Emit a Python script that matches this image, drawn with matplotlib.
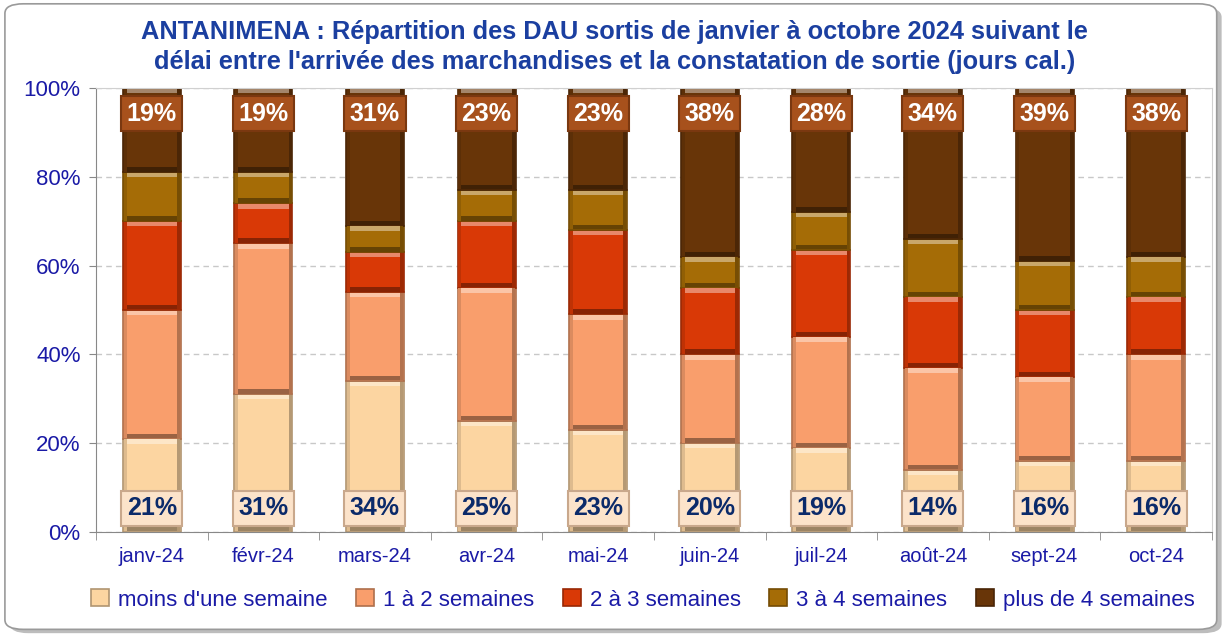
import numpy as np
import matplotlib.pyplot as plt
from matplotlib.patches import FancyBboxPatch
from matplotlib.colors import to_rgb

# data (% of DAU per month)
months = ['janv-24', 'févr-24', 'mars-24', 'avr-24', 'mai-24',
          'juin-24', 'juil-24', 'août-24', 'sept-24', 'oct-24']
series_names = ["moins d'une semaine", '1 à 2 semaines', '2 à 3 semaines',
                '3 à 4 semaines', 'plus de 4 semaines']
moins_1_sem = [21, 31, 34, 25, 23, 20, 19, 14, 16, 16]
sem_1_2 = [29, 34, 20, 30, 26, 20, 25, 23, 19, 24]
sem_2_3 = [20, 9, 9, 15, 19, 15, 19.5, 16, 15, 13]
sem_3_4 = [11, 7, 6, 7, 9, 7, 8.5, 13, 11, 9]
plus_4_sem = [19, 19, 31, 23, 23, 38, 28, 34, 39, 38]

colors = ['#FCD5A1', '#F99E6C', '#D93906', '#A56C06', '#683508']
blue = '#1A1AA6'
title_blue = '#1B3FA0'


def shade(c, f):
    r, g, b = to_rgb(c)
    if f < 1:
        return (r * f, g * f, b * f)
    f = f - 1
    return (r + (1 - r) * f, g + (1 - g) * f, b + (1 - b) * f)


plt.rcParams['font.family'] = ['Liberation Sans', 'DejaVu Sans']

fig = plt.figure(figsize=(12.29, 6.37), dpi=100)

# rounded frame with a soft shadow
fig.patches.append(FancyBboxPatch((0.008, 0.006), 0.986, 0.982,
                                  boxstyle='round,pad=0,rounding_size=0.015',
                                  transform=fig.transFigure, facecolor='#BDBDBD',
                                  edgecolor='none', zorder=-20))
fig.patches.append(FancyBboxPatch((0.004, 0.012), 0.986, 0.982,
                                  boxstyle='round,pad=0,rounding_size=0.015',
                                  transform=fig.transFigure, facecolor='white',
                                  edgecolor='#9A9A9A', linewidth=1.2, zorder=-10))

ax = fig.add_axes([0.0781, 0.1648, 0.908, 0.697])
ax.set_facecolor('none')
ax.set_zorder(5)

x = np.arange(len(months))
data = [moins_1_sem, sem_1_2, sem_2_3, sem_3_4, plus_4_sem]
w = 0.52
bev = 1.0
bottom = np.zeros(len(months))
for vals, col, name in zip(data, colors, series_names):
    vals = np.array(vals, dtype=float)
    ax.bar(x, vals, w, bottom=bottom, color=col, edgecolor=shade(col, 0.7),
           linewidth=1.2, zorder=2, label=name)
    # bevel: light strip on top, dark strip at bottom, darker right side
    ax.bar(x, np.full(len(x), bev), w * 0.94, bottom=bottom + vals - bev - 0.15,
           color=shade(col, 1.4), linewidth=0, zorder=3)
    ax.bar(x, np.full(len(x), bev), w * 0.94, bottom=bottom + 0.15,
           color=shade(col, 0.62), linewidth=0, zorder=3)
    ax.bar(x + w * 0.46, vals - 0.3, w * 0.05, bottom=bottom + 0.15,
           color=shade(col, 0.72), linewidth=0, zorder=3)
    ax.bar(x - w * 0.46, vals - 0.3, w * 0.05, bottom=bottom + 0.15,
           color=shade(col, 0.88), linewidth=0, zorder=3)
    bottom += vals

# data labels: first series at the base, last series near the top
for i in range(len(months)):
    ax.text(x[i], 5.4, f'{moins_1_sem[i]:.0f}%', ha='center', va='center',
            fontsize=18, fontweight='bold', color='#0B2A6A', zorder=5,
            bbox=dict(boxstyle='square,pad=0.22', facecolor='#FCE3CA',
                      edgecolor='#C9A88C', linewidth=1.5))
    ax.text(x[i], 94.2, f'{plus_4_sem[i]:.0f}%', ha='center', va='center',
            fontsize=18, fontweight='bold', color='white', zorder=5,
            bbox=dict(boxstyle='square,pad=0.22', facecolor='#A7511C',
                      edgecolor='#7A3810', linewidth=1.5))

ax.set_xlim(-0.5, len(months) - 0.5)
ax.set_ylim(0, 100)
ax.set_yticks([0, 20, 40, 60, 80, 100])
ax.set_yticklabels([f'{v}%' for v in [0, 20, 40, 60, 80, 100]])
ax.set_xticks(x)
ax.set_xticklabels(months)
ax.set_xticks(np.arange(len(months) + 1) - 0.5, minor=True)
ax.tick_params(axis='x', which='major', length=0, labelsize=14.5,
               labelcolor=blue, pad=11)
ax.tick_params(axis='x', which='minor', length=6, color='#888888', direction='out')
ax.tick_params(axis='y', labelsize=16, labelcolor=blue, length=5,
               color='#888888', pad=6)
ax.grid(axis='y', linestyle=(0, (4, 3)), color='#C8C8C8', linewidth=1, zorder=0)
ax.set_axisbelow(True)
for s in ['left', 'bottom']:
    ax.spines[s].set_color('#888888')
for s in ['top', 'right']:
    ax.spines[s].set_color('#D0D0D0')

fig.text(0.5, 0.926, "ANTANIMENA : Répartition des DAU sortis de janvier à octobre 2024 suivant le\n"
         "délai entre l'arrivée des marchandises et la constatation de sortie (jours cal.)",
         ha='center', va='center', fontsize=18.3, fontweight='bold', color=title_blue,
         linespacing=1.3)

handles, labels = ax.get_legend_handles_labels()
fig.legend(handles, labels, loc='center', bbox_to_anchor=(0.523, 0.058), ncol=5,
           frameon=False, fontsize=16, labelcolor=blue, handlelength=0.8,
           handleheight=0.8, handletextpad=0.4, columnspacing=1.3)

fig.savefig('out.png', dpi=100)
